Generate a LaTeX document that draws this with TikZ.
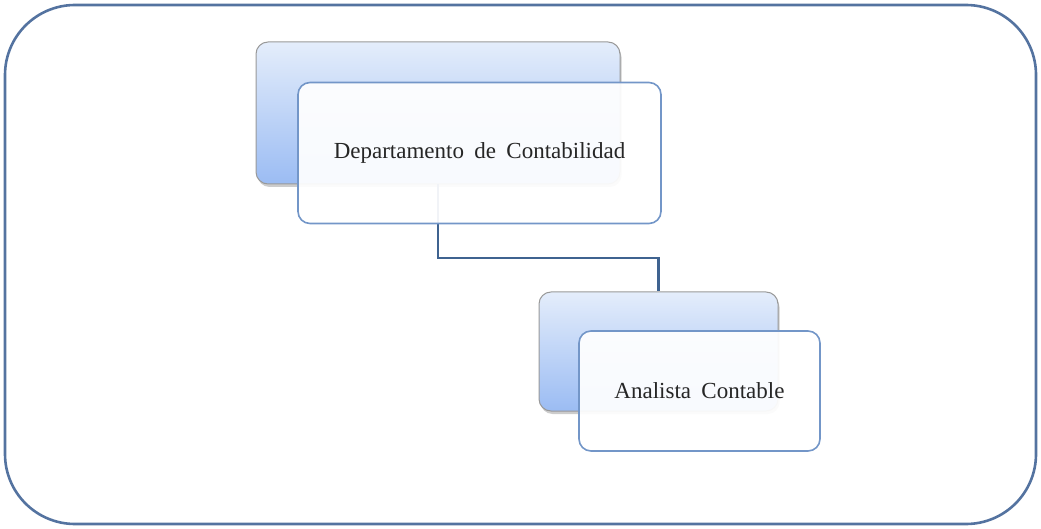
\documentclass[tikz,border=0pt]{standalone}
\usepackage{fontspec}
\setmainfont{Liberation Serif}
\usetikzlibrary{shadows}
\definecolor{framecol}{HTML}{5473A0}
\definecolor{linkcol}{HTML}{3F6390}
\definecolor{fronte}{HTML}{7396C8}
\definecolor{backtop}{HTML}{E4EDFB}
\definecolor{backbot}{HTML}{9BBCF3}

\begin{document}
\begin{tikzpicture}[x=1pt,y=-1pt,
  frame/.style={draw=framecol,line width=2.6pt,rounded corners=70pt},
  backbox/.style={draw=black!40,line width=1pt,rounded corners=12pt,top color=backtop,bottom color=backbot,
    drop shadow={shadow xshift=1.5pt,shadow yshift=-3pt,opacity=0.4}},
  frontbox/.style={draw=fronte,line width=1.6pt,rounded corners=12pt,fill=white,fill opacity=0.93,text opacity=1,
    font=\fontsize{23}{28}\selectfont,text=black!85},
  link/.style={draw=linkcol,line width=2.6pt}]
\useasboundingbox (0,0) rectangle (1041,529);
\draw[frame] (5,5) rectangle (1036,524);
% back boxes
\node[backbox,minimum width=364pt,minimum height=142pt] (deptback) at (438,113) {};
\node[backbox,minimum width=239pt,minimum height=119pt] (anaback) at (658.5,351.5) {};
% connector
\coordinate (mid) at (548,258);
\draw[link] (deptback.south) |- (mid) -| (anaback.north);
% front boxes
\node[frontbox,minimum width=363pt,minimum height=141pt] (dept) at (479.5,153) {Departamento\hspace{0.45em}de\hspace{0.45em}Contabilidad};
\node[frontbox,minimum width=241pt,minimum height=120pt] (ana) at (699.5,391) {Analista\hspace{0.45em}Contable};
\end{tikzpicture}
\end{document}
